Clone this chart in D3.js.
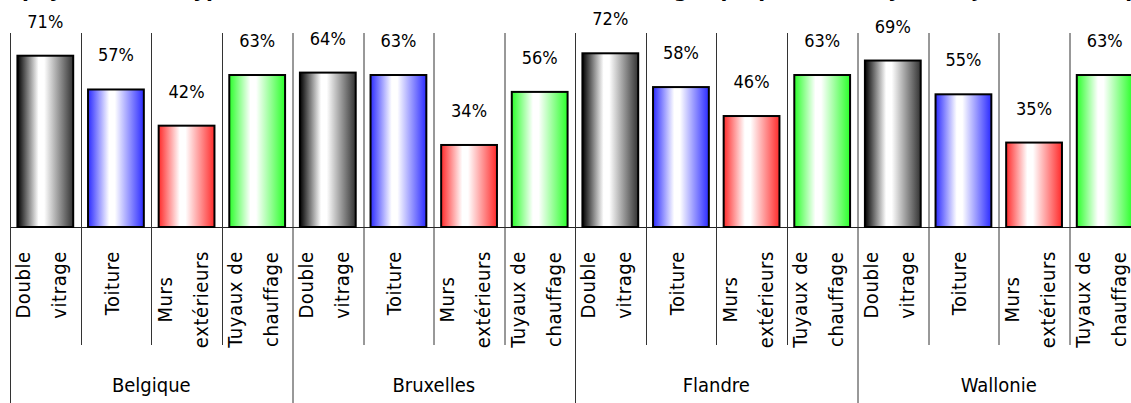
<!DOCTYPE html>
<html>
<head>
<meta charset="utf-8">
<script src="https://cdn.jsdelivr.net/npm/d3@7"></script>
<style>
  body { margin: 0; background: #fff; overflow: hidden; }
  svg { display: block; font-family: "DejaVu Sans Condensed", "DejaVu Sans", sans-serif; }
</style>
</head>
<body>
<svg id="chart"></svg>
<script>
// regions and types of works
const regions = ["Belgique", "Bruxelles", "Flandre", "Wallonie"];
const categories = ["Double vitrage", "Toiture", "Murs extérieurs", "Tuyaux de chauffage"];
const categoryLines = [["Double", "vitrage"], ["Toiture"], ["Murs", "extérieurs"], ["Tuyaux de", "chauffage"]];
const values = {
  "Belgique":  [0.71, 0.57, 0.42, 0.63],
  "Bruxelles": [0.64, 0.63, 0.34, 0.56],
  "Flandre":   [0.72, 0.58, 0.46, 0.63],
  "Wallonie":  [0.69, 0.55, 0.35, 0.63]
};
const colors = ["#000000", "#2b2bff", "#ff2b2b", "#2bff2b"];
const titleText = "pays, selon le type de travaux d'isolation (en % des ménages propriétaires ayant déjà isolé leur appartement)";

const width = 1131;
const height = 403;
const marginLeft = 10;
const plotRight = 1140;
const plotTop = 34;
const baseY = 227;
const labelBottom = 345;

const svg = d3.select("#chart")
  .attr("width", width)
  .attr("height", height)
  .attr("viewBox", [0, 0, width, height]);

// gradients, one per category
const defs = svg.append("defs");
colors.forEach((c, i) => {
  const g = defs.append("linearGradient")
    .attr("id", "grad" + i)
    .attr("x1", "0%").attr("x2", "100%")
    .attr("y1", "0%").attr("y2", "0%");
  g.append("stop").attr("offset", "0%").attr("stop-color", c);
  g.append("stop").attr("offset", "38%").attr("stop-color", "#ffffff");
  g.append("stop").attr("offset", "48%").attr("stop-color", "#ffffff");
  g.append("stop").attr("offset", "100%").attr("stop-color", i === 0 ? "#333" : c);
});

const x0 = d3.scaleBand(regions, [marginLeft, plotRight]);
const x1 = d3.scaleBand(categories, [0, x0.bandwidth()]);
const y = d3.scaleLinear([0, 0.8], [baseY, plotTop]);

const barW = x1.bandwidth() * 0.79;

// title, mostly above the visible area
svg.append("text")
  .attr("x", 22)
  .attr("y", -3)
  .attr("font-size", 20)
  .attr("font-weight", "bold")
  .attr("font-family", "DejaVu Sans")
  .attr("fill", "#000")
  .text(titleText);

// horizontal axis line
svg.append("line")
  .attr("x1", marginLeft).attr("x2", plotRight)
  .attr("y1", baseY + 0.5).attr("y2", baseY + 0.5)
  .attr("stroke", "#222");

const groups = svg.selectAll("g.region")
  .data(regions)
  .join("g")
  .attr("class", "region")
  .attr("transform", d => `translate(${x0(d)},0)`);

// separators in the bar area
groups.each(function(region) {
  const g = d3.select(this);
  categories.forEach((c, i) => {
    const xx = Math.round(x1(c)) + 0.5;
    g.append("line")
      .attr("x1", xx).attr("x2", xx)
      .attr("y1", plotTop - 1).attr("y2", i === 0 ? height : labelBottom)
      .attr("stroke", "#333");
  });
});

// bars
groups.selectAll("rect")
  .data(r => values[r].map((v, i) => ({region: r, cat: categories[i], i, v})))
  .join("rect")
  .attr("x", d => x1(d.cat) + (x1.bandwidth() - barW) / 2)
  .attr("y", d => y(d.v))
  .attr("width", barW)
  .attr("height", d => baseY - y(d.v))
  .attr("fill", d => `url(#grad${d.i})`)
  .attr("stroke", "#000")
  .attr("stroke-width", 2);

// value labels
groups.selectAll("text.val")
  .data(r => values[r].map((v, i) => ({cat: categories[i], v})))
  .join("text")
  .attr("class", "val")
  .attr("x", d => x1(d.cat) + x1.bandwidth() / 2)
  .attr("y", d => y(d.v) - 28)
  .attr("text-anchor", "middle")
  .attr("font-size", 18)
  .text(d => Math.round(d.v * 100) + "%");

// rotated category labels
const lineGap = 36;
const lineShift = -4;
const blockTop = 251;
groups.each(function() {
  const g = d3.select(this);
  categories.forEach((c, i) => {
    const lines = categoryLines[i];
    const cx = x1(c) + x1.bandwidth() / 2 + lineShift;
    const texts = lines.map((t, k) => {
      const lx = cx + (k - (lines.length - 1) / 2) * lineGap;
      return g.append("text")
        .attr("font-size", 20)
        .attr("letter-spacing", 0.6)
        .attr("text-anchor", "middle")
        .attr("dy", "0.35em")
        .attr("data-x", lx)
        .text(t);
    });
    const maxLen = d3.max(texts, t => t.node().getComputedTextLength());
    const cy = blockTop + maxLen / 2;
    texts.forEach(t => {
      t.attr("transform", `translate(${t.attr("data-x")},${cy}) rotate(-90)`);
    });
  });
});

// region labels
groups.append("text")
  .attr("x", x0.bandwidth() / 2)
  .attr("y", 392)
  .attr("text-anchor", "middle")
  .attr("font-size", 20)
  .text(d => d);
</script>
</body>
</html>
